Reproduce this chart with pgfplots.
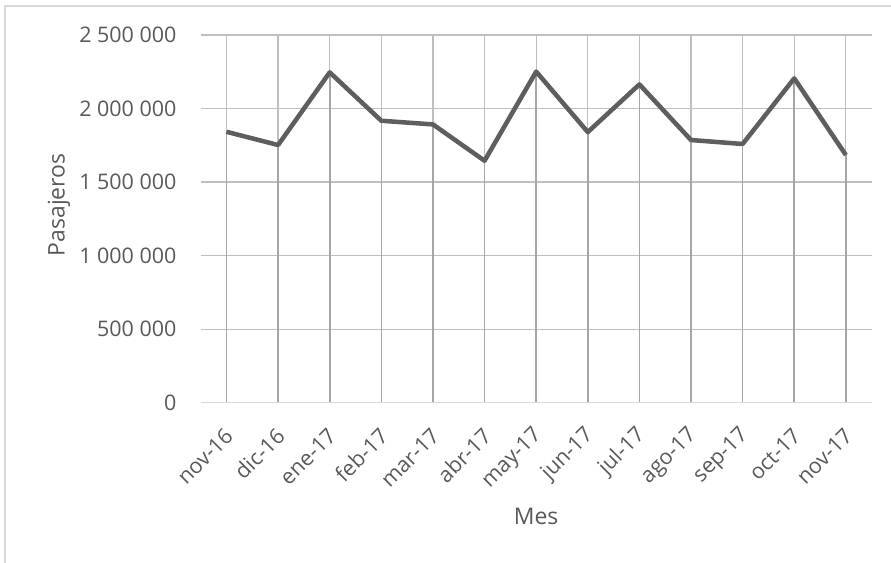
\documentclass[border=0pt]{standalone}
\usepackage{pgfplots}
\pgfplotsset{compat=1.18}
\usepackage{fontspec}
\setmainfont{Open Sans}
\definecolor{txt}{HTML}{595959}
\definecolor{grid}{HTML}{D9D9D9}
\definecolor{drop}{HTML}{A6A6A6}
\definecolor{ln}{HTML}{5E5E5E}
\begin{document}
\begin{tikzpicture}
\useasboundingbox (0pt,0pt) rectangle (668.25pt,422.25pt);
\draw[grid, line width=0.9pt] (3.75pt,-5pt) -- (3.75pt,417.75pt) -- (680pt,417.75pt);
\begin{axis}[
  at={(150.5pt,120.2pt)}, anchor=south west,
  scale only axis, width=503.25pt, height=275.8pt,
  xmin=-0.5, xmax=12.5, ymin=0, ymax=2500000,
  xtick={0,...,12},
  xticklabels={nov-16,dic-16,ene-17,feb-17,mar-17,abr-17,may-17,jun-17,jul-17,ago-17,sep-17,oct-17,nov-17},
  ytick={0,500000,1000000,1500000,2000000,2500000},
  yticklabels={0,500 000,1 000 000,1 500 000,2 000 000,2 500 000},
  scaled y ticks=false,
  axis line style={draw=none},
  major tick length=0pt,
  tick style={draw=none},
  ymajorgrids, grid style={grid, line width=0.9pt},
  tick label style={font=\fontsize{16.1}{19}\selectfont, text=txt},
  yticklabel style={anchor=east, inner sep=0pt, xshift=-18pt},
  xticklabel style={xshift=2pt, yshift=-22pt, rotate=45, anchor=east, inner sep=0pt},
  every axis x label/.style={at={(axis description cs:0.5,-0.308)}, anchor=center},
  every axis y label/.style={at={(axis description cs:-0.211,0.538)}, anchor=center, rotate=90},
  label style={font=\fontsize{17.2}{20}\selectfont, text=txt},
  xlabel={Mes}, ylabel={Pasajeros},
  clip=false,
]
\addplot[ycomb, drop, line width=1.2pt, mark=none] coordinates {
(0,1842000) (1,1752000) (2,2246000) (3,1917000) (4,1892000) (5,1645000) (6,2251000)
(7,1840000) (8,2164000) (9,1786000) (10,1759000) (11,2205000) (12,1684000)};
\draw[grid, line width=0.9pt] (axis cs:-0.5,0) -- (axis cs:12.5,0);
\addplot[ln, line width=3.4pt, line join=round, mark=none] coordinates {
(0,1842000) (1,1752000) (2,2246000) (3,1917000) (4,1892000) (5,1645000) (6,2251000)
(7,1840000) (8,2164000) (9,1786000) (10,1759000) (11,2205000) (12,1684000)};
\end{axis}
\end{tikzpicture}
\end{document}
